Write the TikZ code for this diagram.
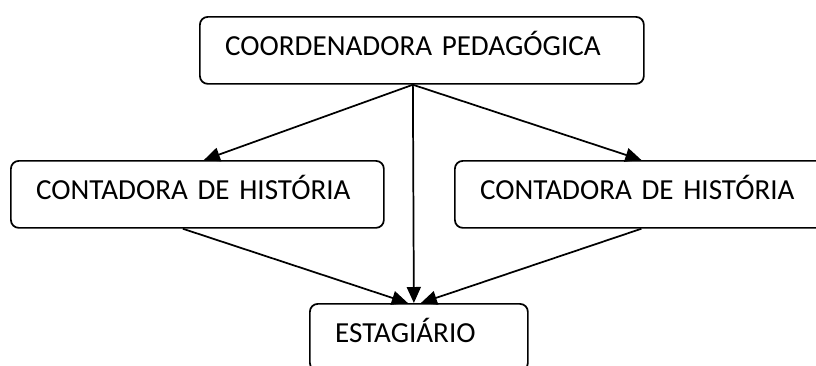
\documentclass[tikz,border=0pt]{standalone}
\usepackage{fontspec}
\setmainfont{Carlito}
\usetikzlibrary{arrows.meta}

\begin{document}
\begin{tikzpicture}[x=0.75pt, y=-0.75pt,
  caixa/.style={draw, line width=1.3pt, rounded corners=6pt, anchor=north west,
    minimum height=50.25pt, inner ysep=0pt, inner xsep=19pt, align=left,
    text height=15pt, text depth=6.8pt,
    font=\fontsize{21.8}{26}\selectfont},
  seta/.style={line width=1.3pt, -{Triangle[length=12pt, width=10.5pt]}}]

\useasboundingbox (0,0) rectangle (816,365);
\clip (0,0) rectangle (816,365);

\node[caixa, text width=295pt] (coord) at (199,16) {\mbox{COORDENADORA PEDAGÓGICA}};
\node[caixa, text width=241.75pt] (conta1) at (10,160) {\mbox{CONTADORA DE HISTÓRIA}};
\node[caixa, text width=241.75pt] (conta2) at (454,160) {\mbox{CONTADORA DE HISTÓRIA}};
\node[caixa, text width=125.5pt] (estag) at (309,303) {\mbox{ESTAGIÁRIO}};

\coordinate (saida) at ([xshift=-6.75pt]coord.south);

\draw[seta] (saida) -- ([xshift=4.9pt]conta1.north);
\draw[seta] (saida) -- (conta2.north);
\draw[seta] (saida) -- ([xshift=-3.75pt]estag.north);
\draw[seta] ([xshift=-10.9pt]conta1.south) -- ([xshift=-8.25pt]estag.north);
\draw[seta] (conta2.south) -- ([xshift=1.5pt]estag.north);

\end{tikzpicture}
\end{document}
